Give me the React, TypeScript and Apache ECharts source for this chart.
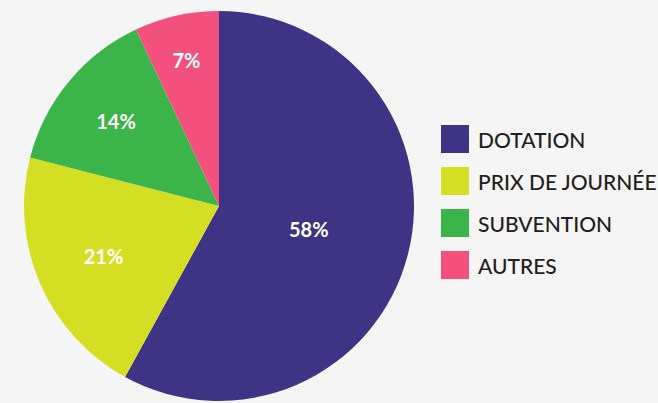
import React, { useEffect, useRef } from "react";
import * as echarts from "echarts";

const categories = ["DOTATION", "PRIX DE JOURNÉE", "SUBVENTION", "AUTRES"];
const values = [58, 21, 14, 7];
const colors = ["#3e3385", "#d4df23", "#3bb44a", "#f4507e"];
// radial position of each label as a fraction of the radius (style only)
const labelRadiusFrac = [0.46, 0.63, 0.67, 0.75];

const CENTER: [number, number] = [219, 206];
const RADIUS = 195;

export default function App() {
  const ref = useRef<HTMLDivElement>(null);
  useEffect(() => {
    if (!ref.current) return;
    const chart = echarts.init(ref.current, undefined, { renderer: "svg" });
    const total = values.reduce((a, b) => a + b, 0);
    let acc = 0;
    const data = values.map((v, i) => {
      const mid = ((acc + v / 2) / total) * Math.PI * 2;
      acc += v;
      const dr = (labelRadiusFrac[i] - 0.5) * RADIUS;
      return {
        name: categories[i],
        value: v,
        itemStyle: { color: colors[i] },
        label: { offset: [Math.sin(mid) * dr, -Math.cos(mid) * dr] },
      };
    });
    chart.setOption({
      animation: false,
      backgroundColor: "#f5f5f5",
      legend: {
        orient: "vertical",
        left: 436,
        top: 120,
        itemWidth: 28,
        itemHeight: 28,
        itemGap: 14,
        icon: "rect",
        data: categories,
        textStyle: {
          fontFamily: "Lato",
          fontSize: 21,
          fontWeight: 500,
          color: "#231f20",
          padding: [0, 0, 0, 4],
        },
      },
      series: [
        {
          type: "pie",
          center: CENTER,
          radius: RADIUS,
          startAngle: 90,
          clockwise: true,
          label: {
            show: true,
            position: "inside",
            formatter: "{c}%",
            color: "#ffffff",
            fontFamily: "Lato",
            fontWeight: "bold",
            fontSize: 20,
          },
          labelLine: { show: false },
          emphasis: { disabled: true },
          data,
        },
      ],
    });
    return () => chart.dispose();
  }, []);
  return <div ref={ref} style={{ width: 658, height: 403, position: "absolute", left: 0, top: 0 }} />;
}
